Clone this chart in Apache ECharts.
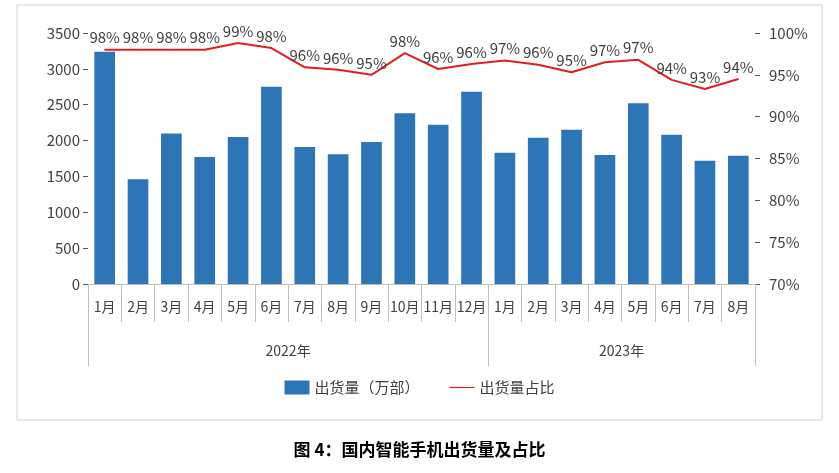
<!DOCTYPE html>
<html><head><meta charset="utf-8">
<script src="https://cdn.jsdelivr.net/npm/echarts@6/dist/echarts.min.js"></script>
<style>html,body{margin:0;padding:0;background:#fff}#c{width:839px;height:473px}</style>
</head><body><div id="c"></div>
<script>
const months=['1月','2月','3月','4月','5月','6月','7月','8月','9月','10月','11月','12月','1月','2月','3月','4月','5月','6月','7月','8月'];
const years=['2022年','2023年'];
const yearSpans=[12,8];
const shipments=[3240,1460,2100,1770,2050,2750,1910,1810,1980,2380,2220,2680,1830,2040,2150,1800,2520,2080,1720,1790];
const share=[98.0,98.0,98.0,98.0,98.8,98.2,95.9,95.6,95.0,97.6,95.7,96.3,96.7,96.2,95.3,96.5,96.8,94.4,93.3,94.5];
const shareLabels=[98,98,98,98,99,98,96,96,95,98,96,96,97,96,95,97,97,94,93,94];
const font='"Noto Sans CJK SC","Noto Sans",sans-serif';
const bounds=[0,yearSpans[0],yearSpans[0]+yearSpans[1]];
const mids=[yearSpans[0]/2,yearSpans[0]+yearSpans[1]/2];
const c=echarts.init(document.getElementById('c'));
c.setOption({
 textStyle:{fontFamily:font},
 graphic:[{type:'rect',shape:{x:17,y:5,width:805,height:415},style:{fill:'none',stroke:'#d0d0d0',lineWidth:1}},
  {type:'text',left:'center',top:441,style:{text:'图 4：国内智能手机出货量及占比',font:'bold 17px '+font,fill:'#000'}}],
 grid:{left:88,right:84,top:33,bottom:189},
 legend:{bottom:73,itemGap:30,textStyle:{fontSize:15,color:'#404040'},
  data:[{name:'出货量（万部）',icon:'rect',itemWidth:42,itemHeight:10},{name:'出货量占比',icon:'path://M0,0H40V2H0Z',itemWidth:42,itemHeight:2,itemStyle:{color:'#e02020'}}]},
 xAxis:[{type:'category',data:months,axisLine:{show:true,lineStyle:{color:'#bfbfbf'}},axisTick:{show:true,interval:0,length:38,lineStyle:{color:'#bfbfbf'}},axisLabel:{color:'#404040',fontSize:14,margin:16,interval:0}},
  {type:'value',min:0,max:bounds[2],position:'bottom',splitLine:{show:false},axisLine:{show:false},
   axisTick:{show:true,customValues:bounds,length:82,lineStyle:{color:'#bfbfbf'}},
   axisLabel:{customValues:mids,color:'#404040',fontSize:14,margin:60,formatter:v=>years[mids.indexOf(v)]}}],
 yAxis:[{type:'value',min:0,max:3500,interval:500,splitLine:{show:false},axisLabel:{color:'#404040',fontSize:15,formatter:v=>String(v)},axisLine:{show:false}},
  {type:'value',min:70,max:100,interval:5,splitLine:{show:false},axisLabel:{color:'#404040',fontSize:15,formatter:'{value}%',margin:14},axisLine:{show:false}}],
 series:[{name:'出货量（万部）',type:'bar',data:shipments,barWidth:'62%',itemStyle:{color:'#2e75b6'}},
  {name:'出货量占比',type:'line',yAxisIndex:1,data:share,symbol:'circle',symbolSize:1,showSymbol:true,itemStyle:{color:'#e02020'},lineStyle:{color:'#e02020',width:2},
   label:{show:true,position:'top',distance:4,fontSize:15,color:'#404040',formatter:p=>shareLabels[p.dataIndex]+'%'}}]
});
</script></body></html>
